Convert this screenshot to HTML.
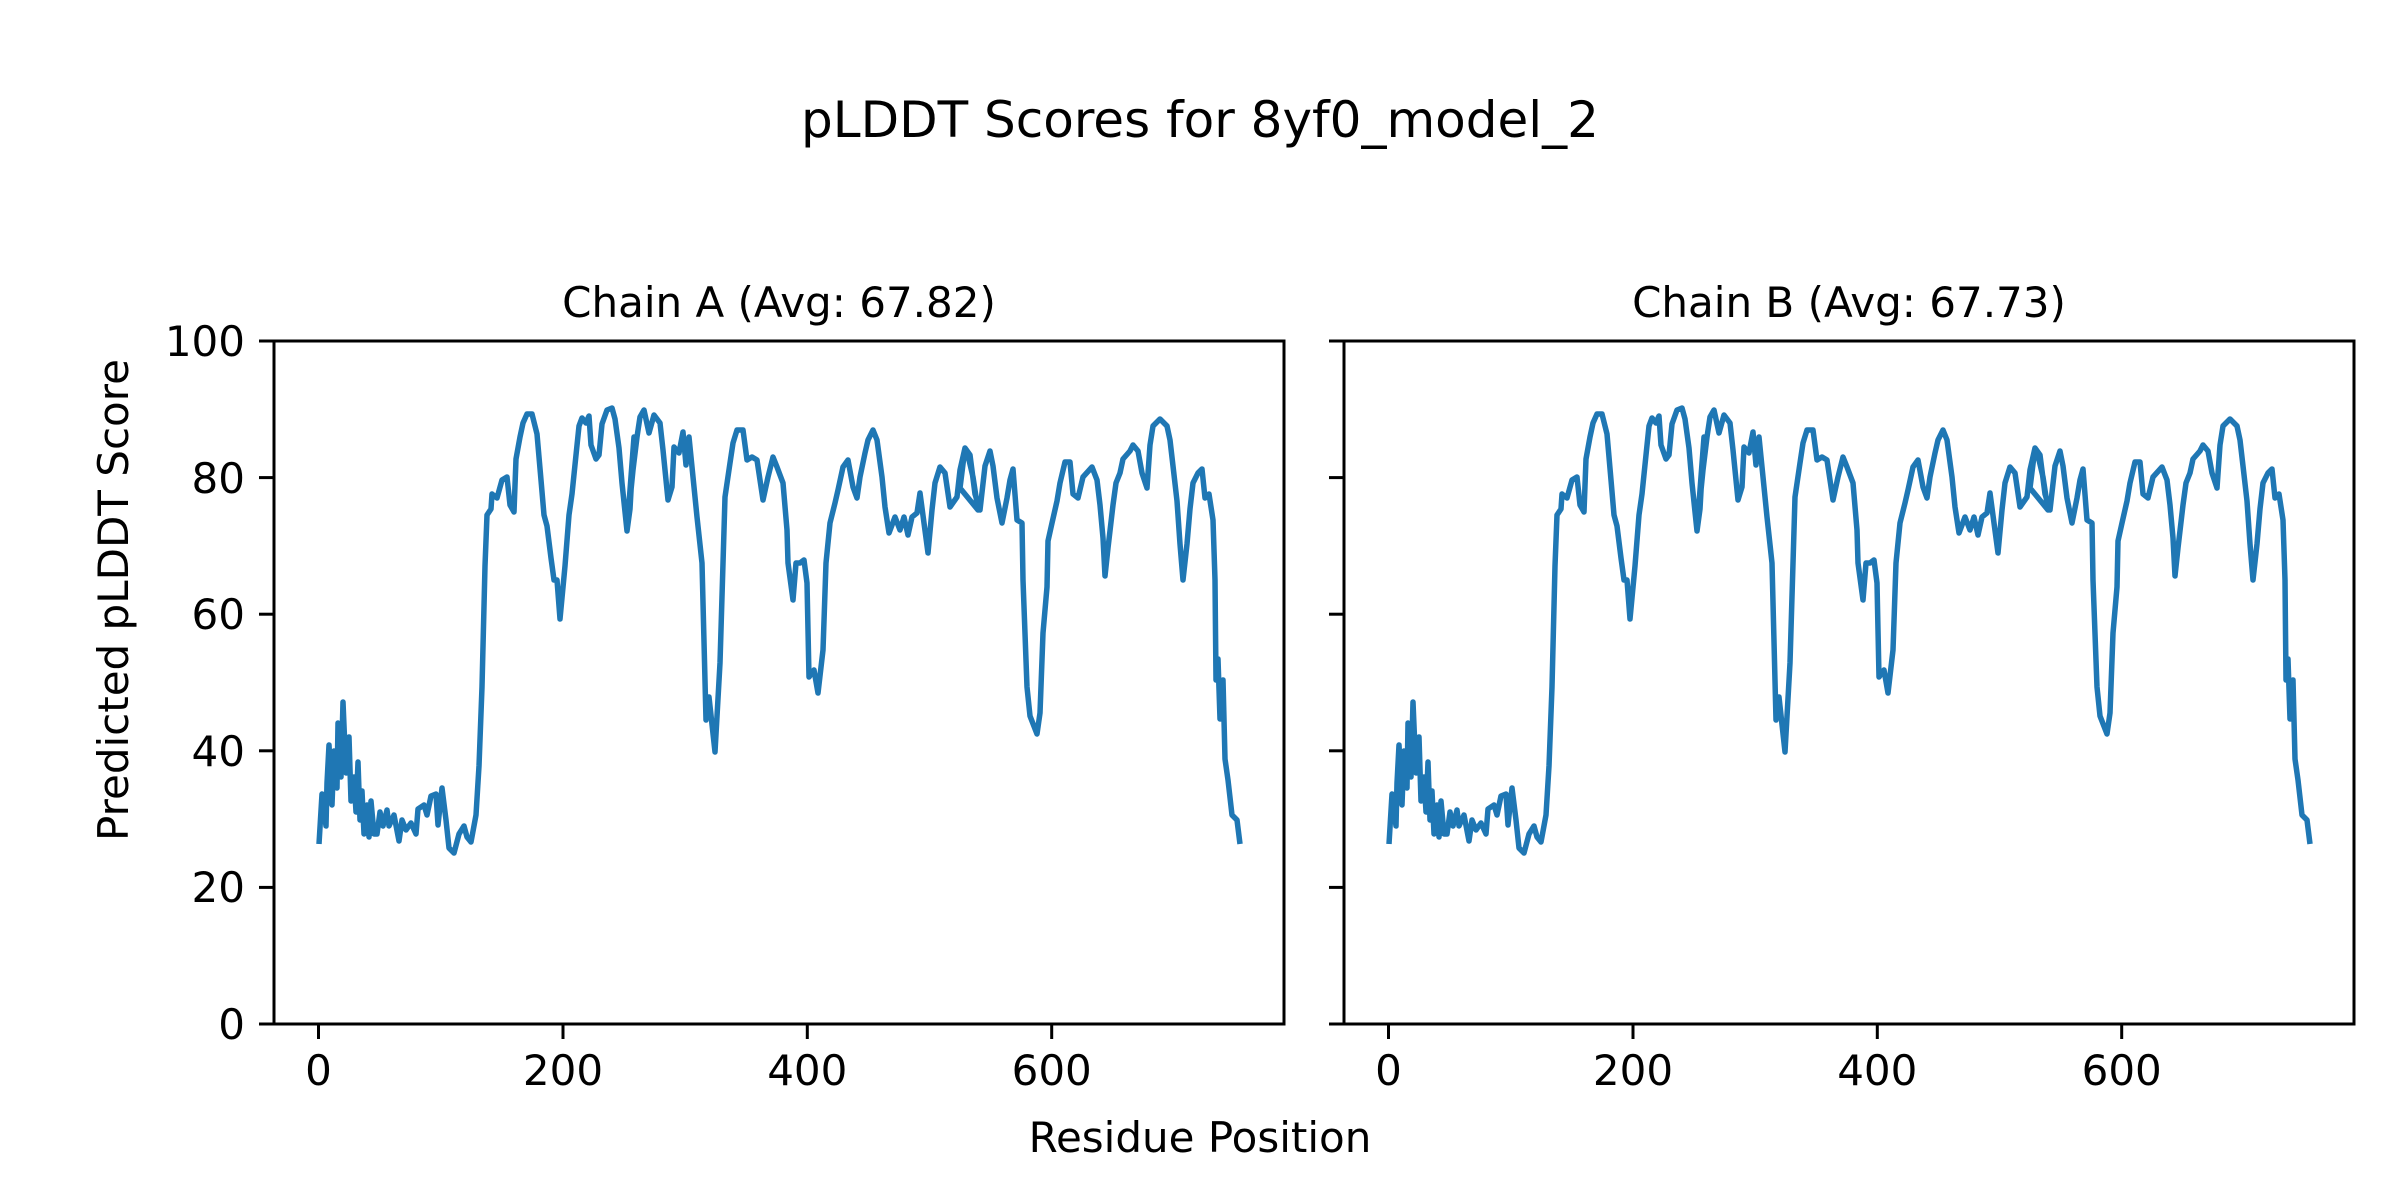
<!DOCTYPE html>
<html><head><meta charset="utf-8"><style>
html,body{margin:0;padding:0;background:#fff;}
svg{display:block;font-family:"DejaVu Sans","Liberation Sans",sans-serif;}
</style></head><body>
<svg width="2400" height="1200" viewBox="0 0 2400 1200" xmlns="http://www.w3.org/2000/svg">
<rect width="2400" height="1200" fill="#fff"/>
<text x="1200" y="137" font-size="50" text-anchor="middle">pLDDT Scores for 8yf0_model_2</text>
<defs>
<polyline id="d" fill="none" stroke="#1f77b4" stroke-width="5.5" stroke-linejoin="round" points="
319,844 322,794 326,826 327,783 329,745 332,805 334,751 337,788 338,723 341,777 343,702 346,773 349,737 351,801 354,777 356,812 358,762 360,820 362,791 364,834 367,805 369,837 371,801 374,834 377,834 380,812 383,826 387,810 389,826 394,815 399,841 402,820 406,830 411,823 416,834 418,809 424,805 427,815 431,796 436,794 438,825 442,788 446,820 449,848 454,853 459,834 464,826 467,837 471,842 476,815 479,766 482,687 485,566 487,515 491,509 492,494 497,498 502,480 507,477 510,505 514,512 516,459 520,437 523,423 527,414 532,414 537,434 541,480 544,515 547,526 551,558 554,580 557,580 560,619 565,566 569,515 572,494 576,455 579,426 582,418 586,423 589,416 591,445 596,459 599,455 602,424 607,410 612,408 615,419 619,448 622,483 627,531 630,509 634,437
627,530 633,470 637,437 640,417 644,410 649,433 654,415 660,423 663,450 668,500 672,487 674,447 679,453 683,432 686,465 689,437 693,477 697,517 702,563 706,720 709,697 715,752 720,663 725,497 730,463 733,443 737,430 743,430 747,460 752,457 757,460 763,500 768,477 773,457 777,467 783,483 787,530 788,563 793,600 796,563 800,563 804,560 807,583 809,677 814,670 818,693 823,650 826,563 830,523 835,503 838,490 843,467 848,460 853,487 857,498 860,477 865,453 868,440 873,430 877,440 882,477 885,507 889,533 895,517 900,530 904,517 908,535 912,517 917,513 920,493 924,523 928,553 932,510 935,483 940,467 945,473 950,507 957,497 960,470 965,448 969,460 973,477 978,510
960,488 965,448 970,455 975,494 980,510 985,466 990,451 993,466 997,498 1002,523 1007,498 1010,480 1013,469 1017,520 1022,523 1023,580 1027,687 1030,716 1037,734 1040,713 1043,633 1047,587 1048,541 1052,523 1057,501 1060,483 1065,462 1070,462 1073,494 1078,498 1083,477 1092,467 1097,480 1100,505 1103,538 1105,576 1108,548 1113,505 1116,483 1120,473 1123,459 1130,451 1133,445 1138,451 1142,473 1147,488 1150,445 1153,426 1160,419 1167,426 1170,440 1173,466 1177,501 1180,544 1183,580 1187,544 1190,509 1193,483 1198,473 1202,469 1205,498 1209,494 1213,520 1215,580 1216,680 1218,659 1220,719 1223,680 1225,759 1228,780 1232,815 1237,820 1240,844"/>
</defs>
<use href="#d"/>
<use href="#d" x="1070"/>
<g fill="none" stroke="#000" stroke-width="3">
<rect x="274" y="341" width="1010" height="683"/>
<rect x="1344" y="341" width="1010" height="683"/>
</g>
<g stroke="#000" stroke-width="3">
<line x1="259" y1="1024" x2="274" y2="1024"/><line x1="259" y1="887.4" x2="274" y2="887.4"/><line x1="259" y1="750.8" x2="274" y2="750.8"/><line x1="259" y1="614.2" x2="274" y2="614.2"/><line x1="259" y1="477.6" x2="274" y2="477.6"/><line x1="259" y1="341" x2="274" y2="341"/>
<line x1="1329" y1="1024" x2="1344" y2="1024"/><line x1="1329" y1="887.4" x2="1344" y2="887.4"/><line x1="1329" y1="750.8" x2="1344" y2="750.8"/><line x1="1329" y1="614.2" x2="1344" y2="614.2"/><line x1="1329" y1="477.6" x2="1344" y2="477.6"/><line x1="1329" y1="341" x2="1344" y2="341"/>
<line x1="318.5" y1="1024" x2="318.5" y2="1039"/><line x1="563" y1="1024" x2="563" y2="1039"/><line x1="807.3" y1="1024" x2="807.3" y2="1039"/><line x1="1051.7" y1="1024" x2="1051.7" y2="1039"/>
<line x1="1388.5" y1="1024" x2="1388.5" y2="1039"/><line x1="1633" y1="1024" x2="1633" y2="1039"/><line x1="1877.3" y1="1024" x2="1877.3" y2="1039"/><line x1="2121.7" y1="1024" x2="2121.7" y2="1039"/>
</g>
<g font-size="42" text-anchor="end">
<text x="245" y="1039">0</text><text x="245" y="902">20</text><text x="245" y="766">40</text><text x="245" y="629">60</text><text x="245" y="493">80</text><text x="245" y="356">100</text>
</g>
<g font-size="42" text-anchor="middle">
<text x="318.5" y="1085">0</text><text x="563" y="1085">200</text><text x="807.3" y="1085">400</text><text x="1051.7" y="1085">600</text>
<text x="1388.5" y="1085">0</text><text x="1633" y="1085">200</text><text x="1877.3" y="1085">400</text><text x="2121.7" y="1085">600</text>
<text x="779" y="317">Chain A (Avg: 67.82)</text>
<text x="1849" y="317">Chain B (Avg: 67.73)</text>
<text x="1200" y="1152">Residue Position</text>
<text transform="translate(128,600) rotate(-90)">Predicted pLDDT Score</text>
</g>
</svg>
</body></html>
